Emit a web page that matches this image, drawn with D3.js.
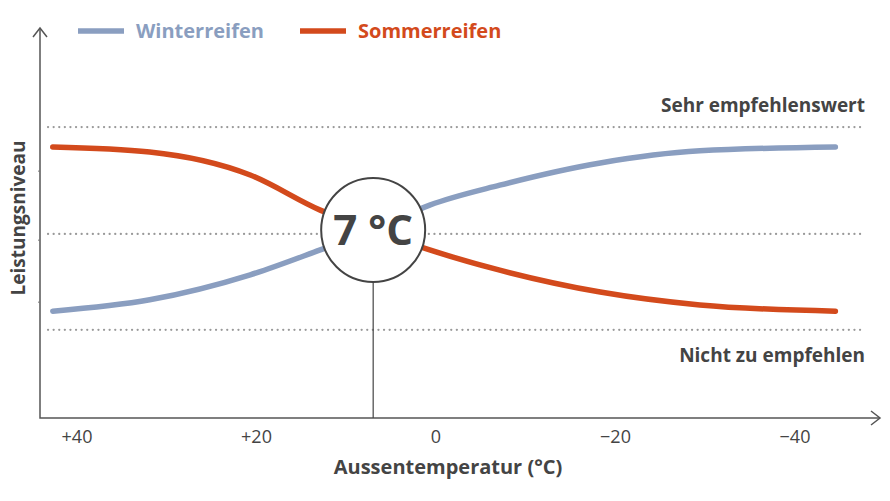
<!DOCTYPE html>
<html lang="de">
<head>
<meta charset="UTF-8">
<script src="https://d3js.org/d3.v7.min.js"></script>
<style>
  body { margin: 0; background: #fff; }
  text { font-family: "Open Sans", sans-serif; font-weight: 700; }
</style>
</head>
<body>
<svg id="chart" width="890" height="501"></svg>
<script>
// temperatures (°C) along each curve
var temps = [42.7, 31.9, 20.7, 12.9, 7, 0.7, -7.1, -18.3, -29.4, -44.5];
// performance level (0..100)
var sommer = [69.5, 68.2, 62.3, 53.3, 48.2, 43.1, 37.9, 32.3, 29.0, 27.4];
var winter = [27.4, 30.3, 36.7, 43.1, 48.2, 54.6, 59.7, 65.4, 68.5, 69.5];
var refLevels = [74.6, 47.2, 22.6];
var refLabels = ["Sehr empfehlenswert", "", "Nicht zu empfehlen"];
var tickTemps = [40, 20, 0, -20, -40];
var tickLabels = ["+40", "+20", "0", "\u221220", "\u221240"];
var crossTemp = 7, crossLevel = 48.2;

var svg = d3.select("#chart");
var x = d3.scaleLinear().domain([0, 40]).range([436, 77]);
var y = d3.scaleLinear().domain([0, 100]).range([418, 28]);
var grey = "#444";

// dotted reference lines
refLevels.forEach(function(v, i) {
  svg.append("line").attr("x1", 48).attr("x2", 862)
     .attr("y1", y(v)).attr("y2", y(v))
     .attr("stroke", "#999").attr("stroke-width", 2.2)
     .attr("stroke-dasharray", "0.1 5.5").attr("stroke-linecap", "round");
  if (refLabels[i]) {
    svg.append("text").attr("x", 865).attr("y", y(v) + (i === 0 ? -15 : 32))
       .attr("text-anchor", "end").attr("font-size", 19).attr("fill", grey)
       .text(refLabels[i]);
  }
});

// axes
svg.append("path").attr("d", "M40,28 V418 H880").attr("fill", "none")
   .attr("stroke", "#555").attr("stroke-width", 1.5);
svg.append("path").attr("d", "M33,37 L40,28 L47,37").attr("fill", "none").attr("stroke", "#555").attr("stroke-width", 1.5);
svg.append("path").attr("d", "M871,411 L880,418 L871,425").attr("fill", "none").attr("stroke", "#555").attr("stroke-width", 1.5);
[63.3, 45.6, 29.7].forEach(function(v) {
  svg.append("line").attr("x1", 38).attr("x2", 40).attr("y1", y(v)).attr("y2", y(v)).attr("stroke", "#777");
});

svg.selectAll(".tick").data(tickTemps).enter().append("text")
   .attr("x", function(d) { return x(d); }).attr("y", 443)
   .attr("text-anchor", "middle").attr("font-size", 18).attr("font-weight", 400)
   .style("font-weight", 400).attr("fill", grey)
   .text(function(d, i) { return tickLabels[i]; });

svg.append("text").attr("x", 448).attr("y", 474).attr("text-anchor", "middle")
   .attr("font-size", 20).attr("fill", grey).text("Aussentemperatur (\u00B0C)");
svg.append("text").attr("transform", "translate(25,218) rotate(-90)")
   .attr("text-anchor", "middle").attr("font-size", 19).attr("fill", grey).text("Leistungsniveau");

// curves
var line = d3.line().x(function(d) { return x(d[0]); }).y(function(d) { return y(d[1]); })
   .curve(d3.curveMonotoneX);
var series = [
  { name: "Winterreifen", vals: winter, color: "#8a9ec0" },
  { name: "Sommerreifen", vals: sommer, color: "#d34a1c" }
];
series.forEach(function(s) {
  svg.append("path").datum(temps.map(function(t, i) { return [t, s.vals[i]]; }))
     .attr("d", line).attr("fill", "none").attr("stroke", s.color)
     .attr("stroke-width", 5.5).attr("stroke-linecap", "round");
});

// crossing marker
svg.append("line").attr("x1", x(crossTemp)).attr("x2", x(crossTemp))
   .attr("y1", y(crossLevel)).attr("y2", 418).attr("stroke", "#444").attr("stroke-width", 1.2);
svg.append("circle").attr("cx", x(crossTemp)).attr("cy", y(crossLevel)).attr("r", 52)
   .attr("fill", "#fff").attr("stroke", "#444").attr("stroke-width", 2);
svg.append("text").attr("x", x(crossTemp)).attr("y", y(crossLevel) + 15)
   .attr("text-anchor", "middle").attr("font-size", 42).attr("fill", grey).text("7 \u00B0C");

// legend
var legX = [78, 300];
series.forEach(function(s, i) {
  svg.append("line").attr("x1", legX[i]).attr("x2", legX[i] + 46).attr("y1", 31).attr("y2", 31)
     .attr("stroke", s.color).attr("stroke-width", 5.5);
  svg.append("text").attr("x", legX[i] + 58).attr("y", 38).attr("font-size", 20)
     .attr("fill", s.color).text(s.name);
});
</script>
</body>
</html>
